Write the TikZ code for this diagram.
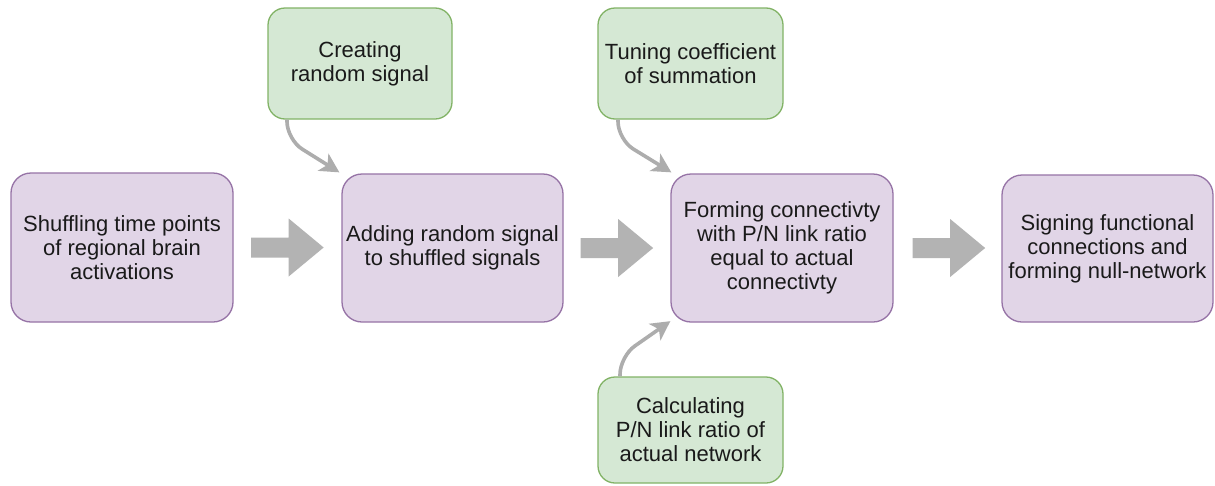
\documentclass[tikz,border=0pt]{standalone}
\usepackage{fontspec}
\setmainfont{Liberation Sans}
\usetikzlibrary{arrows.meta,calc}
\definecolor{pfill}{HTML}{E1D5E7}
\definecolor{pborder}{HTML}{9673A6}
\definecolor{gfill}{HTML}{D5E8D4}
\definecolor{gborder}{HTML}{82B366}
\definecolor{agray}{HTML}{B3B3B3}
\definecolor{cgray}{HTML}{ADADAD}
\definecolor{txt}{HTML}{1A1A1A}
\newcommand\blockarrow[1]{\fill[agray] (#1) ++(0,-10) -- ++(37.5,0) -- ++(0,-19) -- ++(35,29) -- ++(-35,29) -- ++(0,-19) -- ++(-37.5,0) -- cycle;}
\begin{document}
\begin{tikzpicture}[x=1pt,y=-1pt,
  proc/.style={draw=pborder, fill=pfill, rounded corners=20pt, line width=1.3pt, align=center, inner sep=0pt, text=txt, font=\fontsize{22}{24}\selectfont},
  side/.style={draw=gborder, fill=gfill, rounded corners=17pt, line width=1.3pt, align=center, inner sep=0pt, text=txt, font=\fontsize{22}{24}\selectfont},
  conn/.style={draw=cgray, line width=3.6pt, rounded corners=18pt, -{Stealth[length=19pt,width=20pt,inset=5pt]}}]
\useasboundingbox (0,0) rectangle (1215,485);
\fill[white] (0,0) rectangle (1215,485);
\node[proc, minimum width=222pt, minimum height=149pt] (b1) at (122,247.5) {Shuffling time points\\of regional brain\\activations};
\node[proc, minimum width=221pt, minimum height=148pt] (b2) at (452.5,248) {Adding random signal\\to shuffled signals};
\node[proc, minimum width=222pt, minimum height=148pt] (b3) at (782,248) {Forming connectivty\\with P/N link ratio\\equal to actual\\connectivty};
\node[proc, minimum width=211pt, minimum height=147pt] (b4) at (1107.5,248.5) {Signing functional\\connections and\\forming null-network};
\node[side, minimum width=184pt, minimum height=111pt] (g1) at (360,63.5) {Creating\\random signal};
\node[side, minimum width=185pt, minimum height=111pt] (g2) at (690.5,63.5) {Tuning coefficient\\of summation};
\node[side, minimum width=185pt, minimum height=106pt] (g3) at (690.5,430) {Calculating\\P/N link ratio of\\actual network};
\coordinate (a1) at ($(b1.east)+(17.5,0)$);
\coordinate (a2) at ($(b2.east)+(17,0)$);
\coordinate (a3) at ($(b3.east)+(19,0)$);
\blockarrow{a1}
\blockarrow{a2}
\blockarrow{a3}
\draw[conn] ([xshift=-73pt]g1.south) -- ++(0,20) -- ($(b2.north west)+(-2,-1)$);
\draw[conn] ([xshift=-72.5pt]g2.south) -- ++(0,20) -- ($(b3.north west)+(1,-1)$);
\draw[conn] ([xshift=-70.5pt]g3.north) -- ++(0,-20) -- ($(b3.south west)+(0,-1.5)$);
\end{tikzpicture}
\end{document}
